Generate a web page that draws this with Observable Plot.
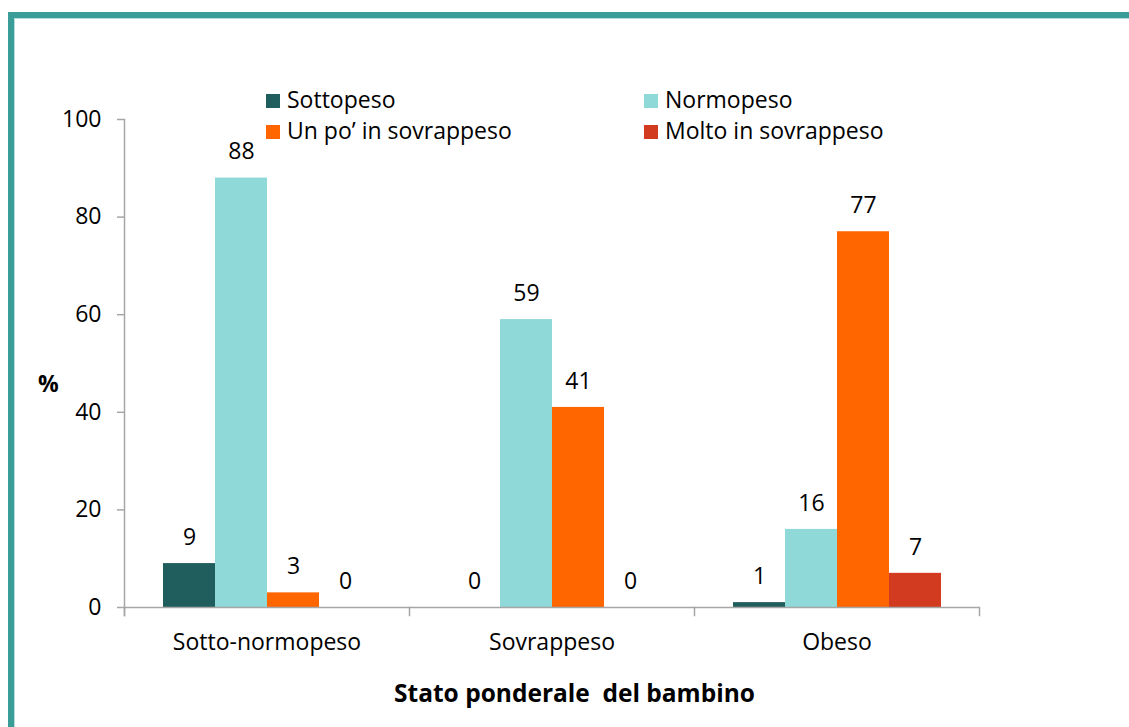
<!DOCTYPE html>
<html>
<head>
<meta charset="utf-8">
<script src="https://cdn.jsdelivr.net/npm/d3@7"></script>
<script src="https://cdn.jsdelivr.net/npm/@observablehq/plot@0.6"></script>
<style>
  html, body { margin: 0; padding: 0; background: #fff; }
  body { font-family: "Open Sans", sans-serif; color: #000; }
  #wrap { position: relative; width: 1129px; height: 727px; overflow: hidden; }
  #border { position: absolute; left: 8px; top: 12px; width: 1300px; height: 900px;
    border-top: 6px solid #3a9d97; border-left: 6px solid #3a9d97; box-sizing: border-box; }
  #border-inner { position: absolute; left: 0; top: 0; width: 100%; height: 100%;
    border-top: 1px solid #b5dedb; border-left: 1px solid #b5dedb; box-sizing: border-box; }
  #chart { position: absolute; left: 0; top: 0; }
  .legend-item { position: absolute; font-size: 23px; line-height: 26px; white-space: nowrap; }
  .legend-item .sw { display: inline-block; width: 14px; height: 14px; margin-right: 7px; vertical-align: 0px; }
  #ylabel { position: absolute; left: 38px; top: 367px; font-weight: bold; font-size: 23px; }
  #xlabel { position: absolute; left: 0; width: 1129px; top: 676px; text-align: center; font-weight: bold; font-size: 24.5px; padding-left: 20px; box-sizing: border-box; white-space: pre; }
</style>
</head>
<body>
<div id="wrap">
  <div id="border"><div id="border-inner"></div></div>
  <div id="chart"></div>
  <div id="ylabel">%</div>
  <div id="xlabel"></div>
</div>
<script>
// ---- data ----
const categories = ["Sotto-normopeso", "Sovrappeso", "Obeso"];
const series = ["Sottopeso", "Normopeso", "Un po\u2019 in sovrappeso", "Molto in sovrappeso"];
const colors = ["#1f5e5c", "#8fdad8", "#ff6600", "#d23b1f"];
const valuesSottopeso = [9, 0, 1];
const valuesNormopeso = [88, 59, 16];
const valuesUnPo = [3, 41, 77];
const valuesMolto = [0, 0, 7];
const yTicks = [0, 20, 40, 60, 80, 100];
const xTitle = "Stato ponderale  del bambino";

const seriesValues = [valuesSottopeso, valuesNormopeso, valuesUnPo, valuesMolto];
const rows = [];
categories.forEach((c, ci) => series.forEach((s, si) => rows.push({cat: c, series: s, value: seriesValues[si][ci]})));

// ---- layout ----
const W = 1129, H = 727;
const mL = 123, mR = 150, mT = 119, mB = 120;
const innerH = H - mT - mB;
const axisGray = "#a6a6a6";

const chart = Plot.plot({
  width: W,
  height: H,
  marginLeft: mL,
  marginRight: mR,
  marginTop: mT,
  marginBottom: mB,
  style: {fontFamily: "Open Sans, sans-serif", fontSize: "23px", color: "#000", background: "transparent"},
  fx: {domain: categories, padding: 0, label: null, tickSize: 0, tickPadding: 26},
  x: {domain: series, paddingInner: 0, paddingOuter: 0.74, axis: null},
  y: {domain: [0, 100], axis: null},
  color: {domain: series, range: colors},
  marks: [
    Plot.barY(rows, {fx: "cat", x: "series", y: "value", fill: "series"}),
    Plot.ruleY([0], {stroke: axisGray, strokeWidth: 1.5}),
    Plot.axisY({ticks: yTicks, tickSize: 7, tickPadding: 16, stroke: axisGray, strokeWidth: 1.5, fill: "#000", label: null, fontSize: 23}),
    Plot.frame({anchor: "left", facetAnchor: "left", stroke: axisGray, strokeWidth: 1.5, insetBottom: -8}),
    Plot.frame({anchor: "left", stroke: axisGray, strokeWidth: 1.5, insetTop: innerH, insetBottom: -8}),
    Plot.frame({anchor: "right", facetAnchor: "right", stroke: axisGray, strokeWidth: 1.5, insetTop: innerH, insetBottom: -8}),
    Plot.text(rows, {fx: "cat", x: "series", y: "value", text: d => String(d.value), dy: -26, fill: "#000", fontSize: 23})
  ]
});
document.getElementById("chart").appendChild(chart);
document.getElementById("xlabel").textContent = xTitle;

// ---- legend ----
const legendPos = [[266, 86], [644, 86], [266, 117], [644, 117]];
legendPos.forEach((p, si) => {
  const el = document.createElement("div");
  el.className = "legend-item";
  el.style.left = p[0] + "px";
  el.style.top = p[1] + "px";
  const sw = document.createElement("span");
  sw.className = "sw";
  sw.style.background = colors[si];
  el.appendChild(sw);
  el.appendChild(document.createTextNode(series[si]));
  document.getElementById("wrap").appendChild(el);
});
</script>
</body>
</html>
